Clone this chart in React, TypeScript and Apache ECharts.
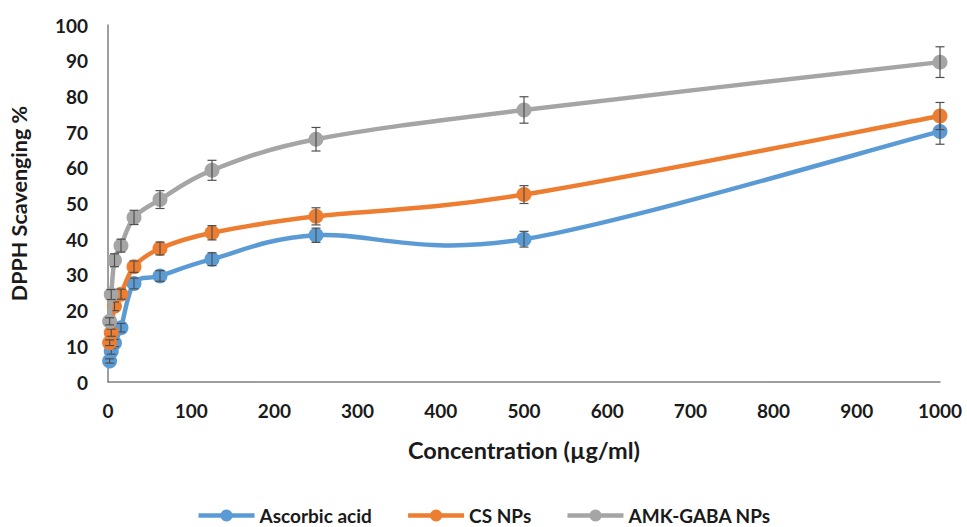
import React, { useEffect, useRef } from "react";
import * as echarts from "echarts";

const concentrations = [1.95, 3.9, 7.8, 15.6, 31.25, 62.5, 125, 250, 500, 1000];
const ascorbicAcid = [5.9, 8.6, 10.9, 15.2, 27.6, 29.7, 34.4, 41.1, 40.0, 70.2];
const csNPs = [11.0, 13.8, 21.2, 24.6, 32.3, 37.4, 41.8, 46.4, 52.5, 74.5];
const amkGabaNPs = [17.0, 24.5, 34.1, 38.2, 46.1, 51.1, 59.3, 68.0, 76.2, 89.6];
const ascorbicErr = [0.6, 0.8, 1.0, 1.2, 1.5, 1.5, 1.8, 2.0, 2.2, 3.6];
const csErr = [0.8, 1.0, 1.2, 1.4, 1.6, 1.8, 2.0, 2.4, 2.5, 3.8];
const amkErr = [1.0, 1.4, 1.8, 1.8, 2.0, 2.5, 2.8, 3.3, 3.7, 4.3];
const seriesNames = ["Ascorbic acid", "CS NPs", "AMK-GABA NPs"];
const colors = ["#5B9BD5", "#ED7D31", "#A5A5A5"];

const FONT = "Lato, 'Open Sans', sans-serif";
const TXT = "#1a1a1a";

export default function App() {
  const ref = useRef<HTMLDivElement>(null);
  useEffect(() => {
    document.body.style.margin = "0";
    if (!ref.current) return;
    const chart = echarts.init(ref.current, undefined, { renderer: "svg" });
    const values = [ascorbicAcid, csNPs, amkGabaNPs];
    const errs = [ascorbicErr, csErr, amkErr];

    const curveSeries = values.map((vals, i) => ({
      name: seriesNames[i] + " curve",
      type: "custom",
      data: concentrations.map((c, j) => [c, vals[j]]),
      renderItem: (params: any, api: any) => {
        const k = params.dataIndex;
        const n = concentrations.length;
        if (k >= n - 1) return { type: "group", children: [] };
        const P = (j: number) => api.coord([concentrations[Math.max(0, Math.min(n - 1, j))], vals[Math.max(0, Math.min(n - 1, j))]]);
        const p0 = P(k - 1), p1 = P(k), p2 = P(k + 1), p3 = P(k + 2);
        const t = 6;
        return {
          type: "bezierCurve",
          shape: {
            x1: p1[0], y1: p1[1],
            cpx1: p1[0] + (p2[0] - p0[0]) / t, cpy1: p1[1] + (p2[1] - p0[1]) / t,
            cpx2: p2[0] - (p3[0] - p1[0]) / t, cpy2: p2[1] - (p3[1] - p1[1]) / t,
            x2: p2[0], y2: p2[1],
          },
          style: { stroke: colors[i], lineWidth: 4.5, fill: null, lineCap: "round" },
          z2: i,
        };
      },
      z: 2 + i * 3,
      silent: true,
    }));

    const lineSeries = values.map((vals, i) => ({
      name: seriesNames[i],
      type: "line",
      data: concentrations.map((c, j) => [c, vals[j]]),
      symbol: "circle",
      symbolSize: 15,
      lineStyle: { width: 4.5, color: colors[i], opacity: 0 },
      itemStyle: { color: colors[i] },
      z: 3 + i * 3,
    }));

    const errSeries = values.map((vals, i) => ({
      name: seriesNames[i] + " err",
      type: "custom",
      data: concentrations.map((c, j) => [c, vals[j] - errs[i][j], vals[j] + errs[i][j]]),
      renderItem: (params: any, api: any) => {
        const lo = api.coord([api.value(0), api.value(1)]);
        const hi = api.coord([api.value(0), api.value(2)]);
        const w = 4.5;
        const style = { stroke: "#505050", lineWidth: 1.2 };
        return {
          type: "group",
          children: [
            { type: "line", shape: { x1: lo[0], y1: lo[1], x2: hi[0], y2: hi[1] }, style },
            { type: "line", shape: { x1: lo[0] - w, y1: lo[1], x2: lo[0] + w, y2: lo[1] }, style },
            { type: "line", shape: { x1: hi[0] - w, y1: hi[1], x2: hi[0] + w, y2: hi[1] }, style },
          ],
        };
      },
      z: 4 + i * 3,
      silent: true,
    }));

    chart.setOption({
      animation: false,
      textStyle: { fontFamily: FONT },
      grid: { left: 103, right: 27, top: 25, bottom: 145 },
      legend: {
        data: seriesNames,
        top: 501,
        left: "center",
        itemWidth: 56,
        itemHeight: 15,
        itemGap: 34,
        lineStyle: { opacity: 1, width: 4.5 },
        textStyle: { fontFamily: FONT, fontWeight: "bold", fontSize: 19, color: TXT },
      },
      xAxis: {
        type: "value",
        min: 0,
        max: 1000,
        interval: 100,
        name: "Concentration (µg/ml)",
        nameLocation: "middle",
        nameGap: 56,
        nameTextStyle: { fontFamily: FONT, fontWeight: "bold", fontSize: 23.5, color: TXT },
        axisLine: { lineStyle: { color: "#7f7f7f", width: 1.5 } },
        axisTick: { show: false },
        splitLine: { show: false },
        axisLabel: { fontFamily: FONT, fontWeight: "bold", fontSize: 19, color: TXT, margin: 19, formatter: (v: number) => String(v) },
      },
      yAxis: {
        type: "value",
        min: 0,
        max: 100,
        interval: 10,
        name: "DPPH Scavenging %",
        nameLocation: "middle",
        nameGap: 78,
        nameTextStyle: { fontFamily: FONT, fontWeight: "bold", fontSize: 21.5, color: TXT },
        axisLine: { show: true, lineStyle: { color: "#7f7f7f", width: 1.5 } },
        axisTick: { show: false },
        splitLine: { show: false },
        axisLabel: { fontFamily: FONT, fontWeight: "bold", fontSize: 19, color: TXT, margin: 20 },
      },
      series: [...curveSeries, ...lineSeries, ...errSeries],
    });
    return () => chart.dispose();
  }, []);
  return <div ref={ref} style={{ width: 967, height: 527 }} />;
}
